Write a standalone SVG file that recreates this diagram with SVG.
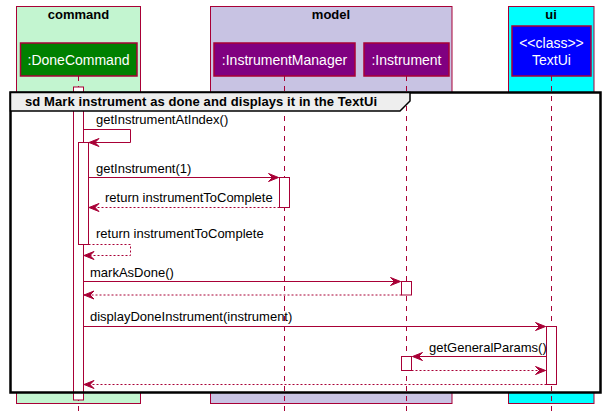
<svg xmlns="http://www.w3.org/2000/svg" width="605" height="415" viewBox="0 0 605 415">
<style>
.pkg{stroke:#A80036;stroke-width:1}
.ptitle{font-family:"Liberation Sans",Arial,sans-serif;font-size:13px;font-weight:bold;fill:#000;text-anchor:middle}
.part{stroke:#A80036;stroke-width:1.5}
.pname{font-family:"Liberation Sans",Arial,sans-serif;font-size:14px;fill:#FFFFFF;text-anchor:middle}
.life{stroke:#A80036;stroke-width:1;stroke-dasharray:5,5;fill:none}
.act{fill:#FFFFFF;stroke:#A80036;stroke-width:1}
.msg{stroke:#A80036;stroke-width:1;fill:none}
.ret{stroke:#A80036;stroke-width:1;fill:none;stroke-dasharray:2,2}
.lbl{font-family:"Liberation Sans",Arial,sans-serif;font-size:13px;fill:#000}
.head{fill:#A80036;stroke:#A80036;stroke-width:1}
</style>
<defs>
<polygon id="ar" points="0,0 -10,-4 -6,0 -10,4" class="head"/>
<polygon id="al" points="0,0 10,-4 6,0 10,4" class="head"/>
</defs>
<g id="pkg-command"><rect x="16.5" y="6.5" width="124" height="397" fill="#C3F5D0" class="pkg"/><text x="78.5" y="19" class="ptitle">command</text></g>
<g id="pkg-model"><rect x="210.5" y="6.5" width="241.5" height="397" fill="#C8C3E3" class="pkg"/><text x="331" y="19" class="ptitle">model</text></g>
<g id="pkg-ui"><rect x="508.5" y="6.5" width="85.5" height="397" fill="#00FFFF" class="pkg"/><text x="551" y="19" class="ptitle">ui</text></g>
<rect id="frame-bg" x="10.5" y="92.5" width="590" height="300" fill="#FFFFFF" stroke="none"/>
<g id="lifelines">
<line x1="78.5" y1="76" x2="78.5" y2="413" class="life"/>
<line x1="284.5" y1="76" x2="284.5" y2="413" class="life"/>
<line x1="406.5" y1="76" x2="406.5" y2="413" class="life"/>
<line x1="551.5" y1="76" x2="551.5" y2="413" class="life"/>
</g>
<g id="p-DoneCommand"><rect x="20.5" y="43" width="116.5" height="33" fill="#008000" class="part"/><text x="78.5" y="65" class="pname">:DoneCommand</text></g>
<g id="p-InstrumentManager"><rect x="214" y="43" width="141" height="33" fill="#800080" class="part"/><text x="284.5" y="65" class="pname">:InstrumentManager</text></g>
<g id="p-Instrument"><rect x="364" y="43" width="85" height="33" fill="#800080" class="part"/><text x="406.5" y="65" class="pname">:Instrument</text></g>
<g id="p-TextUi"><rect x="512" y="26" width="79" height="50" fill="#0000FF" class="part"/><text x="551.5" y="48" class="pname">&lt;&lt;class&gt;&gt;</text><text x="551.5" y="65" class="pname">TextUi</text></g>
<g id="activations">
<rect x="73.5" y="87" width="10" height="313" class="act"/>
<rect x="78.5" y="142.5" width="10" height="102" class="act"/>
<rect x="279.5" y="177.5" width="10" height="30" class="act"/>
<rect x="401.5" y="281.5" width="10" height="13.5" class="act"/>
<rect x="546.5" y="326.5" width="10" height="58" class="act"/>
<rect x="401.5" y="356.5" width="10" height="14" class="act"/>
</g>
<g id="frame">
<rect x="10.5" y="92.5" width="590" height="300" fill="none" stroke="#000" stroke-width="2.5"/>
<polygon points="10.5,92.5 410,92.5 410,101 400,111 10.5,111" fill="#EEEEEE" stroke="#000" stroke-width="1.5"/>
<text x="25" y="106" class="lbl" font-weight="bold" textLength="352" lengthAdjust="spacing">sd Mark instrument as done and displays it in the TextUi</text>
</g>
<g id="connectors">
<polyline points="83.5,129.5 130.5,129.5 130.5,142.5 89,142.5" class="msg"/><use href="#al" x="89" y="142.5"/>
<text x="96" y="124" class="lbl">getInstrumentAtIndex()</text>
<line x1="88.5" y1="177.5" x2="278.5" y2="177.5" class="msg"/><use href="#ar" x="278.5" y="177.5"/>
<text x="96" y="173" class="lbl">getInstrument(1)</text>
<line x1="279.5" y1="207.5" x2="89" y2="207.5" class="ret"/><use href="#al" x="89" y="207.5"/>
<text x="105" y="202" class="lbl">return instrumentToComplete</text>
<polyline points="88.5,244.5 130.5,244.5 130.5,255.5 84,255.5" class="ret"/><use href="#al" x="84" y="255.5"/>
<text x="96" y="238" class="lbl">return instrumentToComplete</text>
<line x1="83.5" y1="281.5" x2="400.5" y2="281.5" class="msg"/><use href="#ar" x="400.5" y="281.5"/>
<text x="90" y="277" class="lbl">markAsDone()</text>
<line x1="401.5" y1="295" x2="84" y2="295" class="ret"/><use href="#al" x="84" y="295"/>
<line x1="83.5" y1="326.5" x2="545.5" y2="326.5" class="msg"/><use href="#ar" x="545.5" y="326.5"/>
<text x="90" y="321" class="lbl">displayDoneInstrument(instrument)</text>
<line x1="546.5" y1="356.5" x2="412.5" y2="356.5" class="msg"/><use href="#al" x="412.5" y="356.5"/>
<text x="429" y="352" class="lbl">getGeneralParams()</text>
<line x1="411.5" y1="370.5" x2="545.5" y2="370.5" class="ret"/><use href="#ar" x="545.5" y="370.5"/>
<line x1="546.5" y1="384.5" x2="84" y2="384.5" class="ret"/><use href="#al" x="84" y="384.5"/>
</g>
</svg>
